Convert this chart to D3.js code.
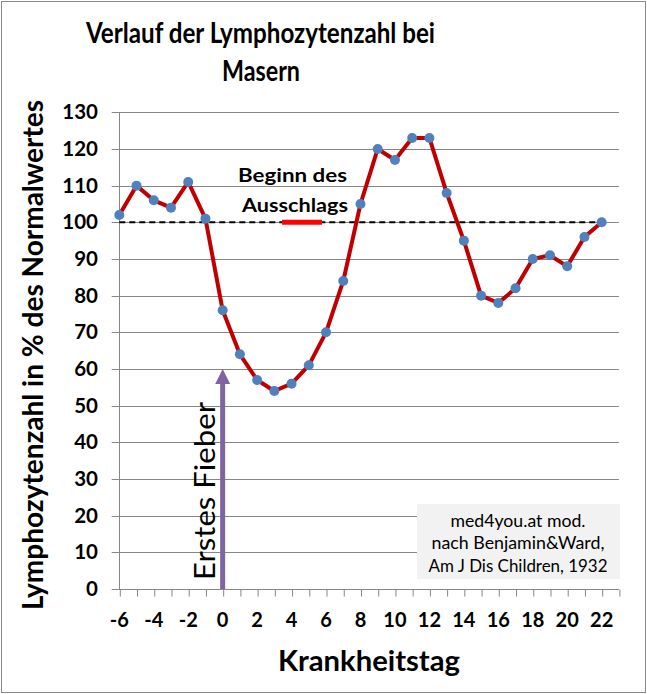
<!DOCTYPE html>
<html>
<head>
<meta charset="utf-8">
<script src="https://cdn.jsdelivr.net/npm/d3@7"></script>
<style>
  html, body { margin: 0; padding: 0; background: #fff; }
  svg { display: block; }
  text { font-family: Lato, "Open Sans", sans-serif; fill: #000; }
</style>
</head>
<body>
<script>
// ---- data ----
const days = [-6,-5,-4,-3,-2,-1,0,1,2,3,4,5,6,7,8,9,10,11,12,13,14,15,16,17,18,19,20,21,22];
const lymph = [102,110,106,104,111,101,76,64,57,54,56,61,70,84,105,120,117,123,123,108,95,80,78,82,90,91,88,96,100];
const xTickLabels = [-6,-4,-2,0,2,4,6,8,10,12,14,16,18,20,22];
const yTickLabels = [0,10,20,30,40,50,60,70,80,90,100,110,120,130];
const referenceValue = 100;
const rashSpan = [3.45, 5.77];      // "Beginn des Ausschlags" marker (days)
const feverDay = 0;                 // "Erstes Fieber"
const feverArrowTop = 60;
const titleLines = ["Verlauf der Lymphozytenzahl bei", "Masern"];
const sourceLines = ["med4you.at mod.", "nach Benjamin&Ward,", "Am J Dis Children, 1932"];

// ---- layout ----
const W = 647, H = 694;
const svg = d3.select("body").append("svg").attr("width", W).attr("height", H);

const x = d3.scaleLinear().domain([-6, 23]).range([119.3, 618.9]);
const y = d3.scaleLinear().domain([0, 130]).range([589, 112.3]);
const gridLeft = 111.7, gridRight = x(23);

// outer border
svg.append("rect").attr("x", 1.5).attr("y", 1.5).attr("width", W - 3).attr("height", H - 3)
  .attr("fill", "#fff").attr("stroke", "#8a8a8a").attr("stroke-width", 1);

// horizontal gridlines
svg.append("g").selectAll("line").data(yTickLabels).join("line")
  .attr("x1", gridLeft).attr("x2", gridRight)
  .attr("y1", d => Math.round(y(d)) + 0.5).attr("y2", d => Math.round(y(d)) + 0.5)
  .attr("stroke", "#868686").attr("stroke-width", 1);

// y axis line
svg.append("line").attr("x1", Math.round(x(-6)) + 0.5).attr("x2", Math.round(x(-6)) + 0.5)
  .attr("y1", y(130)).attr("y2", y(0)).attr("stroke", "#868686");

// x axis ticks (every day)
const xAxis = d3.axisBottom(x).tickValues(d3.range(-6, 24)).tickSize(7).tickFormat("");
const gx = svg.append("g").attr("transform", `translate(0,${Math.round(y(0)) + 0.5})`).call(xAxis);
gx.select(".domain").remove();
gx.selectAll(".tick line").attr("stroke", "#868686").attr("transform", "translate(0.5,0)");

// x tick labels
svg.append("g").selectAll("text").data(xTickLabels).join("text")
  .attr("x", d => x(d)).attr("y", 627)
  .attr("text-anchor", "middle").attr("font-weight", "bold").attr("font-size", 20)
  .text(d => d);

// y tick labels
svg.append("g").selectAll("text").data(yTickLabels).join("text")
  .attr("x", 98).attr("y", d => y(d) + 7)
  .attr("text-anchor", "end").attr("font-weight", "bold").attr("font-size", 20.5)
  .text(d => d);

// reference dashed line at 100
svg.append("line").attr("x1", x(-6)).attr("x2", x(22))
  .attr("y1", y(referenceValue)).attr("y2", y(referenceValue))
  .attr("stroke", "#000").attr("stroke-width", 2).attr("stroke-dasharray", "6,4");

// rash marker
svg.append("line").attr("x1", x(rashSpan[0])).attr("x2", x(rashSpan[1]))
  .attr("y1", y(referenceValue)).attr("y2", y(referenceValue))
  .attr("stroke", "#ff0000").attr("stroke-width", 5);

// fever arrow
const ax = x(feverDay);
const tipY = y(feverArrowTop);
svg.append("line").attr("x1", ax).attr("x2", ax).attr("y1", y(0)).attr("y2", tipY + 12)
  .attr("stroke", "#8064a2").attr("stroke-width", 5);
svg.append("path")
  .attr("d", `M${ax},${tipY} L${ax + 7.5},${tipY + 15} L${ax - 7.5},${tipY + 15} Z`)
  .attr("fill", "#8064a2");

// series line
const pts = days.map((d, i) => [d, lymph[i]]);
svg.append("path").datum(pts)
  .attr("d", d3.line().x(d => x(d[0])).y(d => y(d[1])))
  .attr("fill", "none").attr("stroke", "#c00000").attr("stroke-width", 4)
  .attr("stroke-linejoin", "round");

// markers
svg.append("g").selectAll("circle").data(pts).join("circle")
  .attr("cx", d => x(d[0])).attr("cy", d => y(d[1])).attr("r", 5)
  .attr("fill", "#4f81bd");

// helper for fitted text
function fitText(g, str, opts) {
  const t = g.append("text")
    .attr("x", opts.x).attr("y", opts.y)
    .attr("font-size", opts.size)
    .attr("font-weight", opts.weight || "normal")
    .attr("text-anchor", opts.anchor || "middle")
    .text(str);
  if (opts.len) t.attr("textLength", opts.len).attr("lengthAdjust", "spacingAndGlyphs");
  if (opts.transform) t.attr("transform", opts.transform);
  return t;
}

// title
fitText(svg, titleLines[0], {x: 260.5, y: 43, size: 28, weight: "bold", len: 349});
fitText(svg, titleLines[1], {x: 261, y: 81, size: 28, weight: "bold", len: 78});

// y axis title
fitText(svg, "Lymphozytenzahl in % des Normalwertes",
  {x: 0, y: 0, size: 28, weight: "bold", len: 510, transform: "translate(43,355) rotate(-90)"});

// x axis title
fitText(svg, "Krankheitstag", {x: 369, y: 671, size: 29, weight: "bold", len: 182});

// rash annotation
fitText(svg, "Beginn des", {x: 292.5, y: 182, size: 19, weight: "bold", len: 109});
fitText(svg, "Ausschlags", {x: 295, y: 212, size: 19, weight: "bold", len: 106});

// fever annotation
fitText(svg, "Erstes Fieber",
  {x: 0, y: 0, size: 28, len: 178, transform: "translate(215,491) rotate(-90)"});

// source box
svg.append("rect").attr("x", 417).attr("y", 504).attr("width", 203).attr("height", 75)
  .attr("fill", "#f2f2f2");
const srcW = [135, 173, 179];
const srcY = [527, 549, 572];
sourceLines.forEach((s, i) => fitText(svg, s, {x: 518, y: srcY[i], size: 18, len: srcW[i]}));
</script>
</body>
</html>
